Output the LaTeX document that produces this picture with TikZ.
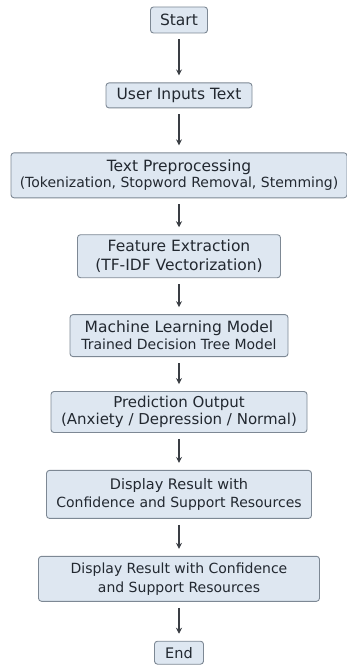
\documentclass[tikz,border=0pt]{standalone}
\usepackage{fontspec}
\setmainfont{DejaVu Sans}
\usetikzlibrary{positioning,arrows.meta}
\definecolor{boxfill}{RGB}{222,231,241}
\definecolor{boxline}{RGB}{125,136,148}
\definecolor{txtgray}{RGB}{34,40,48}
\definecolor{argray}{RGB}{58,62,68}

\begin{document}
\begin{tikzpicture}[x=1pt,y=1pt,>={Stealth[length=6pt,width=6pt,inset=2pt]},
    node distance=36pt,
    box/.style={rectangle,rounded corners=3pt,draw=boxline,fill=boxfill,line width=0.9pt,
                text=txtgray,align=center,inner sep=2pt,
                font=\fontsize{15.5}{18.5}\selectfont},
    sbox/.style={box,font=\fontsize{14.5}{17.5}\selectfont},
    ar/.style={->,line width=1.2pt,draw=argray,shorten <=6pt,shorten >=7pt}]
    \useasboundingbox (0,0) rectangle (346,-666);
    \node[box,minimum width=57pt,minimum height=26pt] (start) at (179,-20) {Start};
    \node[box,minimum width=146pt,minimum height=25pt,below=49pt of start] (input) {User Inputs Text};
    \node[box,minimum width=336pt,minimum height=45pt,below=44pt of input,
          font=\fontsize{14}{15.5}\selectfont] (prep)
      {{\fontsize{15.5}{15.5}\selectfont Text Preprocessing}\\ (Tokenization, Stopword Removal, Stemming)};
    \node[box,minimum width=203pt,minimum height=43pt,below=of prep] (feat)
      {Feature Extraction\\ (TF-IDF Vectorization)};
    \node[box,minimum width=218pt,minimum height=42pt,below=of feat,
          font=\fontsize{15.5}{17}\selectfont] (model)
      {Machine Learning Model\\ {\fontsize{14}{17}\selectfont Trained Decision Tree Model}};
    \node[box,minimum width=256pt,minimum height=41pt,below=34pt of model,
          font=\fontsize{15}{17.5}\selectfont] (pred)
      {Prediction Output\\ (Anxiety / Depression / Normal)};
    \node[sbox,minimum width=265pt,minimum height=48pt,below=37pt of pred] (disp)
      {Display Result with\\ {\fontsize{14}{17}\selectfont Confidence and Support Resources}};
    \node[sbox,minimum width=281pt,minimum height=45pt,below=37pt of disp,
          font=\fontsize{14}{19}\selectfont] (dispb)
      {Display Result with Confidence\\ and Support Resources};
    \node[box,minimum width=49pt,minimum height=23pt,below=39pt of dispb,
          font=\fontsize{14.5}{17}\selectfont] (end) {End};
    \draw[ar](start)--(input);\draw[ar](input)--(prep);\draw[ar](prep)--(feat);
    \draw[ar](feat)--(model);\draw[ar](model)--(pred);\draw[ar](pred)--(disp);
    \draw[ar](disp)--(dispb);\draw[ar](dispb)--(end);
  \end{tikzpicture}
\end{document}
